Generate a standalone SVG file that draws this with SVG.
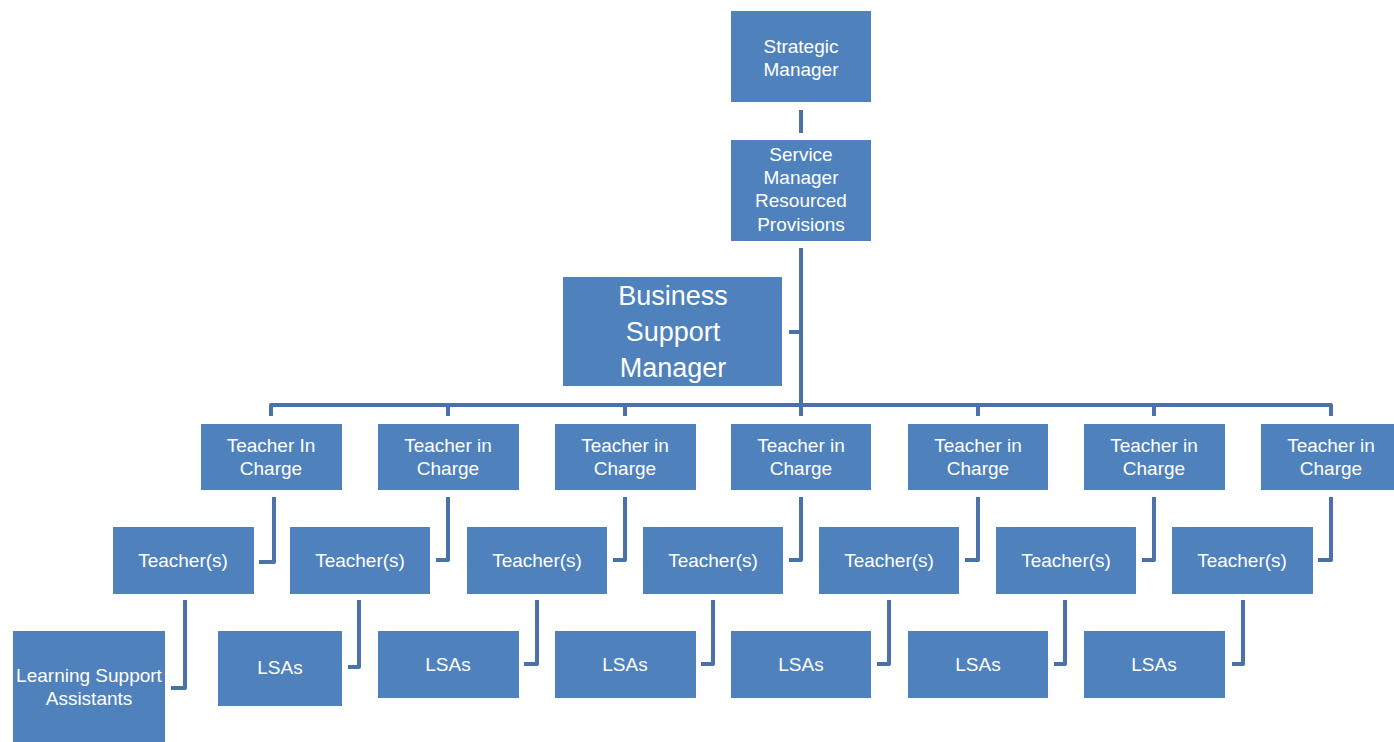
<svg xmlns="http://www.w3.org/2000/svg" width="1394" height="742" viewBox="0 0 1394 742">
<style>
.box{fill:#4F81BD;}
.t{font-family:"Liberation Sans",Arial,sans-serif;font-size:19px;fill:#ffffff;text-anchor:middle;}
.big{font-size:27px;}
.c{fill:none;stroke:#4A72A8;stroke-width:4;stroke-linejoin:round;stroke-linecap:butt;}
</style>
<rect width="1394" height="742" fill="#ffffff"/>
<g id="connectors">
<path class="c" d="M801 110V133"/>
<path class="c" d="M801 248V405"/>
<path class="c" d="M789 332H801"/>
<path class="c" d="M271 416V405H1331V416"/>
<path class="c" d="M448 405V416M625 405V416M801 405V416M978 405V416M1154 405V416"/>
<path class="c" d="M274 497V562H259"/>
<path class="c" d="M448 497V560H436"/>
<path class="c" d="M625 497V560H613"/>
<path class="c" d="M801 497V560H789"/>
<path class="c" d="M978 497V560H965"/>
<path class="c" d="M1154 497V560H1142"/>
<path class="c" d="M1331 497V560H1318"/>
<path class="c" d="M185 600V688H171"/>
<path class="c" d="M359 600V667H348"/>
<path class="c" d="M537 600V664H524"/>
<path class="c" d="M713 600V664H701"/>
<path class="c" d="M889 600V664H877"/>
<path class="c" d="M1065 600V664H1054"/>
<path class="c" d="M1243 600V664H1232"/>
</g>
<g id="strategic-manager"><rect class="box" x="731" y="11" width="140" height="91"/><text class="t" x="801" y="53">Strategic</text><text class="t" x="801" y="76">Manager</text></g>
<g id="service-manager"><rect class="box" x="731" y="140" width="140" height="101"/><text class="t" x="801" y="161">Service</text><text class="t" x="801" y="184">Manager</text><text class="t" x="801" y="207">Resourced</text><text class="t" x="801" y="231">Provisions</text></g>
<g id="business-support-manager"><rect class="box" x="563" y="277" width="219" height="109"/><text class="t big" x="673" y="305">Business</text><text class="t big" x="673" y="341">Support</text><text class="t big" x="673" y="377">Manager</text></g>
<g id="tic1"><rect class="box" x="201" y="424" width="141" height="66"/><text class="t" x="271" y="452">Teacher In</text><text class="t" x="271" y="475">Charge</text></g>
<g id="tic2"><rect class="box" x="378" y="424" width="141" height="66"/><text class="t" x="448" y="452">Teacher in</text><text class="t" x="448" y="475">Charge</text></g>
<g id="tic3"><rect class="box" x="555" y="424" width="141" height="66"/><text class="t" x="625" y="452">Teacher in</text><text class="t" x="625" y="475">Charge</text></g>
<g id="tic4"><rect class="box" x="731" y="424" width="140" height="66"/><text class="t" x="801" y="452">Teacher in</text><text class="t" x="801" y="475">Charge</text></g>
<g id="tic5"><rect class="box" x="908" y="424" width="140" height="66"/><text class="t" x="978" y="452">Teacher in</text><text class="t" x="978" y="475">Charge</text></g>
<g id="tic6"><rect class="box" x="1084" y="424" width="141" height="66"/><text class="t" x="1154" y="452">Teacher in</text><text class="t" x="1154" y="475">Charge</text></g>
<g id="tic7"><rect class="box" x="1261" y="424" width="140" height="66"/><text class="t" x="1331" y="452">Teacher in</text><text class="t" x="1331" y="475">Charge</text></g>
<g id="teachers1"><rect class="box" x="113" y="527" width="141" height="67"/><text class="t" x="183" y="567">Teacher(s)</text></g>
<g id="teachers2"><rect class="box" x="290" y="527" width="140" height="67"/><text class="t" x="360" y="567">Teacher(s)</text></g>
<g id="teachers3"><rect class="box" x="467" y="527" width="140" height="67"/><text class="t" x="537" y="567">Teacher(s)</text></g>
<g id="teachers4"><rect class="box" x="643" y="527" width="140" height="67"/><text class="t" x="713" y="567">Teacher(s)</text></g>
<g id="teachers5"><rect class="box" x="819" y="527" width="140" height="67"/><text class="t" x="889" y="567">Teacher(s)</text></g>
<g id="teachers6"><rect class="box" x="996" y="527" width="140" height="67"/><text class="t" x="1066" y="567">Teacher(s)</text></g>
<g id="teachers7"><rect class="box" x="1172" y="527" width="141" height="67"/><text class="t" x="1242" y="567">Teacher(s)</text></g>
<g id="lsa1"><rect class="box" x="13" y="631" width="152" height="115"/><text class="t" x="89" y="682">Learning Support</text><text class="t" x="89" y="705">Assistants</text></g>
<g id="lsa2"><rect class="box" x="218" y="631" width="124" height="75"/><text class="t" x="280" y="674">LSAs</text></g>
<g id="lsa3"><rect class="box" x="378" y="631" width="141" height="67"/><text class="t" x="448" y="671">LSAs</text></g>
<g id="lsa4"><rect class="box" x="555" y="631" width="141" height="67"/><text class="t" x="625" y="671">LSAs</text></g>
<g id="lsa5"><rect class="box" x="731" y="631" width="140" height="67"/><text class="t" x="801" y="671">LSAs</text></g>
<g id="lsa6"><rect class="box" x="908" y="631" width="140" height="67"/><text class="t" x="978" y="671">LSAs</text></g>
<g id="lsa7"><rect class="box" x="1084" y="631" width="141" height="67"/><text class="t" x="1154" y="671">LSAs</text></g>
</svg>
